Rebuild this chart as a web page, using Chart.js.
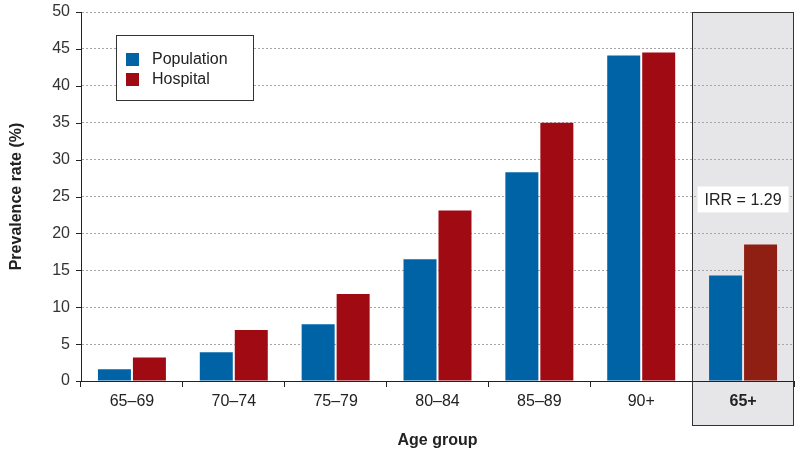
<!DOCTYPE html>
<html>
<head>
<meta charset="utf-8">
<script src="https://cdn.jsdelivr.net/npm/chart.js@4"></script>
<style>
  html, body { margin: 0; padding: 0; background: #fff; }
  #wrap { width: 800px; height: 454px; }
</style>
</head>
<body>
<div id="wrap"><canvas id="prevChart" width="800" height="454"></canvas></div>
<script>
const ageGroups = ['65–69', '70–74', '75–79', '80–84', '85–89', '90+', '65+'];
const population = [1.6, 3.9, 7.7, 16.5, 28.3, 44.1, 14.3];
const hospital = [3.2, 6.9, 11.8, 23.1, 35.0, 44.5, 18.5];
const yTicks = [0, 5, 10, 15, 20, 25, 30, 35, 40, 45, 50];
const irrText = 'IRR = 1.29';

const FONT = "'Liberation Sans', Arial, sans-serif";
const blue = '#0063a6';
const red = '#a00b13';
const redTotal = '#8e1f12';

// grey panel behind the 65+ group, plus legend, irr label and y tick marks
const extras = {
    id: 'extras',
    beforeDraw(chart) {
        const {ctx, chartArea, scales: {x}} = chart;
        const half = (x.getPixelForValue(1) - x.getPixelForValue(0)) / 2;
        const left = x.getPixelForValue(6) - half;
        ctx.save();
        ctx.fillStyle = '#e6e6e8';
        ctx.fillRect(left, chartArea.top, chartArea.right - left, 425 - chartArea.top);
        ctx.restore();
    },
    afterDatasetsDraw(chart) {
        const {ctx, scales: {x, y}} = chart;
        const cx = x.getPixelForValue(6);
        const cy = y.getPixelForValue(24.6);
        ctx.save();
        ctx.font = '16px ' + FONT;
        const w = ctx.measureText(irrText).width + 14;
        ctx.fillStyle = '#fff';
        ctx.fillRect(cx - w / 2, cy - 13, w, 26);
        ctx.fillStyle = '#222';
        ctx.textAlign = 'center';
        ctx.textBaseline = 'middle';
        ctx.fillText(irrText, cx, cy + 1);
        ctx.restore();
    },
    afterDraw(chart) {
        const {ctx, chartArea, scales: {x, y}} = chart;
        ctx.save();
        // grey panel border
        const half = (x.getPixelForValue(1) - x.getPixelForValue(0)) / 2;
        const left = Math.round(x.getPixelForValue(6) - half) + 0.5;
        const right = Math.round(chartArea.right) - 0.5;
        ctx.strokeStyle = '#333';
        ctx.lineWidth = 1;
        ctx.strokeRect(left, Math.round(chartArea.top) + 0.5, right - left, 425 - Math.round(chartArea.top));

        // y tick marks
        ctx.strokeStyle = '#222';
        ctx.beginPath();
        yTicks.forEach(v => {
            const py = Math.round(y.getPixelForValue(v)) + 0.5;
            ctx.moveTo(chartArea.left - 5, py);
            ctx.lineTo(chartArea.left, py);
        });
        ctx.stroke();

        // legend
        ctx.fillStyle = '#fff';
        ctx.fillRect(116, 35, 137, 65);
        ctx.strokeStyle = '#333';
        ctx.strokeRect(116.5, 35.5, 137, 65);
        const items = chart.data.datasets;
        ctx.font = '16px ' + FONT;
        ctx.textBaseline = 'middle';
        items.forEach((ds, i) => {
            const top = 53 + i * 20;
            ctx.fillStyle = i === 0 ? blue : red;
            ctx.fillRect(126, top, 13, 13);
            ctx.fillStyle = '#222';
            ctx.fillText(ds.label, 152, top + 7);
        });
        ctx.restore();
    }
};

new Chart(document.getElementById('prevChart'), {
    type: 'bar',
    data: {
        labels: ageGroups,
        datasets: [
            {
                label: 'Population',
                data: population,
                backgroundColor: blue,
                categoryPercentage: 0.687,
                barPercentage: 0.943
            },
            {
                label: 'Hospital',
                data: hospital,
                backgroundColor: hospital.map((v, i) => i === 6 ? redTotal : red),
                categoryPercentage: 0.687,
                barPercentage: 0.943
            }
        ]
    },
    options: {
        responsive: false,
        animation: false,
        devicePixelRatio: 1,
        layout: { padding: { top: 12, right: 6, left: 0, bottom: 0 } },
        plugins: {
            legend: { display: false },
            tooltip: { enabled: false }
        },
        scales: {
            x: {
                offset: true,
                grid: {
                    display: true,
                    offset: true,
                    drawOnChartArea: false,
                    drawTicks: true,
                    tickLength: 6,
                    color: '#222'
                },
                border: { display: true, color: '#222', width: 1 },
                ticks: {
                    color: '#222',
                    padding: 5,
                    font: ctx => ({ family: FONT, size: 16, weight: ctx.index === 6 ? 'bold' : 'normal' })
                },
                title: {
                    display: true,
                    text: 'Age group',
                    color: '#222',
                    font: { family: FONT, size: 16, weight: 'bold' },
                    padding: { top: 0, bottom: 4 }
                },
                afterFit(scale) {
                    scale.height = 73;
                    scale.paddingLeft = 0;
                    scale.paddingRight = 0;
                }
            },
            y: {
                min: 0,
                max: 50,
                afterBuildTicks(scale) { scale.ticks = yTicks.map(v => ({ value: v })); },
                grid: {
                    drawTicks: false,
                    color: ctx => ctx.tick && ctx.tick.value === 0 ? 'rgba(0,0,0,0)' : '#a6a6a6',
                    lineWidth: 1
                },
                border: { display: true, color: '#222', width: 1, dash: [2, 2] },
                ticks: {
                    color: '#333',
                    padding: 11,
                    font: { family: FONT, size: 16 }
                },
                title: {
                    display: true,
                    text: 'Prevalence rate (%)',
                    color: '#222',
                    font: { family: FONT, size: 16, weight: 'bold' },
                    padding: { top: 7, bottom: 0 }
                },
                afterFit(scale) {
                    scale.width = 81;
                    scale.paddingTop = 0;
                    scale.paddingBottom = 0;
                }
            }
        }
    },
    plugins: [extras]
});
</script>
</body>
</html>
